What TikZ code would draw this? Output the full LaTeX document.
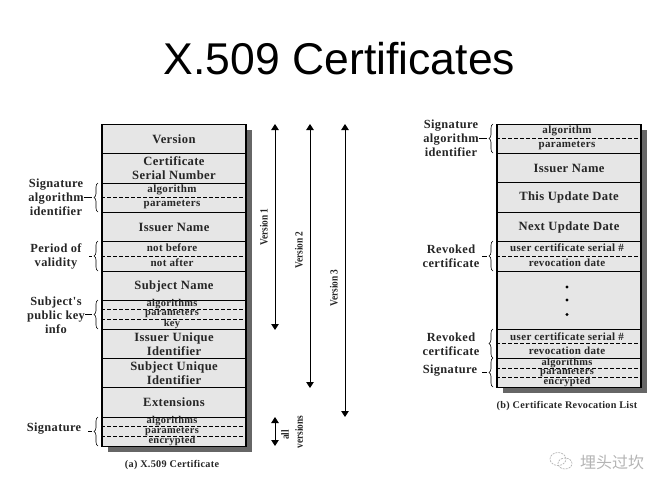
\documentclass[tikz,border=0pt]{standalone}
\usepackage{fontspec}
\setmainfont{Liberation Serif}
\newfontfamily\titlefont{Liberation Sans}
\newfontfamily\cjkfont{Noto Sans CJK SC}
\newfontfamily\spaced[LetterSpace=3]{Liberation Serif}
\usetikzlibrary{decorations.pathreplacing,arrows.meta,positioning}
\definecolor{rowgrey}{HTML}{E6E6E6}
\definecolor{shadowgrey}{HTML}{666666}
\definecolor{markgrey}{HTML}{B4B4B4}
\tikzset{
  x=1pt,y=-1pt,
  bigtext/.style={font=\spaced\bfseries\fontsize{12.6}{14}\selectfont,align=center,text=black!85},
  smalltext/.style={font=\spaced\bfseries\fontsize{11}{10}\selectfont,align=center,text=black!85},
  tinytext/.style={font=\spaced\bfseries\fontsize{10.4}{9}\selectfont,align=center,text=black!85},
  sidetext/.style={font=\spaced\bfseries\fontsize{12.4}{14}\selectfont,align=center,text=black!85,inner sep=0pt},
  captext/.style={font=\spaced\bfseries\fontsize{10.2}{10}\selectfont,text=black!85,inner sep=0pt},
  verstext/.style={font=\bfseries\fontsize{11}{10}\selectfont,rotate=90,xscale=.85,inner sep=0pt,text=black!85},
  rowbox/.style={draw=black,line width=1.1pt,fill=rowgrey,minimum width=144pt,inner sep=0pt,anchor=north},
  sepline/.style={black,line width=.7pt,dash pattern=on 3.5pt off 2.5pt},
  arrline/.style={black,line width=.9pt,{Triangle[width=7.5pt,length=6pt]}-{Triangle[width=7.5pt,length=6pt]}},
  brc/.style={black,line width=.6pt,decorate,decoration={brace,amplitude=4pt,aspect=.5}},
  tickline/.style={black,line width=.6pt},
  shadowbox/.style={fill=shadowgrey,draw=none,inner sep=0pt,minimum width=144pt,anchor=north},
}
% \rowat{name}{top y}{height}{x centre}{style}{text}
\newcommand{\rowat}[6]{\node[rowbox,minimum height=#3pt,#5] (#1) at (#4,#2) {#6};}
\begin{document}
\begin{tikzpicture}
\useasboundingbox (0,0) rectangle (665,490);
\node[font=\titlefont\fontsize{44.5}{48}\selectfont,text=black] (title) at (339.5,59) {X.509 Certificates};

% ---- left table
\node[shadowbox,minimum height=322pt] (shadowA) at (180,129.5) {};
\rowat{v}{124}{29}{174}{bigtext}{Version}
\rowat{csn}{153}{30}{174}{bigtext}{Certificate\\Serial Number}
\rowat{sa}{183}{29}{174}{}{}
\rowat{in}{212}{29}{174}{bigtext}{Issuer Name}
\rowat{pv}{241}{30}{174}{}{}
\rowat{sn}{271}{29}{174}{bigtext}{Subject Name}
\rowat{pk}{300}{29}{174}{}{}
\rowat{iu}{329}{29}{174}{bigtext}{Issuer Unique\\Identifier}
\rowat{su}{358}{29}{174}{bigtext}{Subject Unique\\Identifier}
\rowat{ex}{387}{30}{174}{bigtext}{Extensions}
\rowat{sg}{417}{29}{174}{}{}
\draw[sepline] ([yshift=-14.5pt]sa.north west) -- ([yshift=-14.5pt]sa.north east);
\draw[sepline] ([yshift=-15pt]pv.north west) -- ([yshift=-15pt]pv.north east);
\draw[sepline] ([yshift=-9.5pt]pk.north west) -- ([yshift=-9.5pt]pk.north east);
\draw[sepline] ([yshift=-19.5pt]pk.north west) -- ([yshift=-19.5pt]pk.north east);
\draw[sepline] ([yshift=-9.5pt]sg.north west) -- ([yshift=-9.5pt]sg.north east);
\draw[sepline] ([yshift=-19.5pt]sg.north west) -- ([yshift=-19.5pt]sg.north east);
\node[smalltext] (t1) at (172,190) {algorithm};
\node[smalltext] (t2) at (172,205) {parameters};
\node[smalltext] (t3) at (172,248) {not before};
\node[smalltext] (t4) at (172,263) {not after};
\node[tinytext] (t5) at (172,304) {algorithms};
\node[tinytext] (t6) at (172,314) {parameters};
\node[tinytext] (t7) at (172,324) {key};
\node[tinytext] (t8) at (172,421.5) {algorithms};
\node[tinytext] (t9) at (172,431.5) {parameters};
\node[tinytext] (t10) at (172,441) {encrypted};

% ---- left labels and braces
\node[sidetext] (l1) at (56,197) {Signature\\algorithm\\identifier};
\node[sidetext] (l2) at (56,256) {Period of\\validity};
\node[sidetext] (l3) at (56,315) {Subject's\\public key\\info};
\node[sidetext] (l4) at (54,429) {Signature};
\coordinate (b1a) at (98,212); \coordinate (b1b) at (98,183);
\coordinate (b2a) at (98,271); \coordinate (b2b) at (98,241);
\coordinate (b3a) at (98,329); \coordinate (b3b) at (98,300);
\coordinate (b4a) at (98,446); \coordinate (b4b) at (98,417);
\draw[brc] (b1a) -- (b1b); \draw[brc] (b2a) -- (b2b);
\draw[brc] (b3a) -- (b3b); \draw[brc] (b4a) -- (b4b);
\draw[tickline] (l1.east |- 0,197.5) -- (92,197.5);
\draw[tickline] (89,256) -- (92,256);
\draw[tickline] (l3.east |- 0,314.5) -- (92,314.5);
\draw[tickline] (88,431.5) -- (92,431.5);

% ---- version arrows
\coordinate (a1t) at (275,124); \coordinate (a1b) at (275,330);
\coordinate (a2t) at (310,124); \coordinate (a2b) at (310,388);
\coordinate (a3t) at (345,124); \coordinate (a3b) at (345,417);
\coordinate (a4t) at (275,417); \coordinate (a4b) at (275,446);
\draw[arrline] (a1t) -- (a1b);
\draw[arrline] (a2t) -- (a2b);
\draw[arrline] (a3t) -- (a3b);
\draw[arrline] (a4t) -- (a4b);
\node[verstext] (n1) at (264,227) {Version 1};
\node[verstext] (n2) at (299,250) {Version 2};
\node[verstext] (n3) at (334,288) {Version 3};
\node[verstext] (n4) at (285,435) {all};
\node[verstext] (n5) at (299,432) {versions};
\node[captext] (capA) at (172,465) {(a) X.509 Certificate};

% ---- right table
\node[shadowbox,minimum height=263.5pt] (shadowB) at (575,129.5) {};
\rowat{rs}{124}{29}{569}{}{}
\rowat{rin}{153}{29}{569}{bigtext}{Issuer Name}
\rowat{rtu}{182}{30}{569}{bigtext}{This Update Date}
\rowat{rnu}{212}{29}{569}{bigtext}{Next Update Date}
\rowat{rr1}{241}{30}{569}{}{}
\rowat{rdots}{271}{58}{569}{}{}
\rowat{rr2}{329}{29}{569}{}{}
\rowat{rsg}{358}{29}{569}{}{}
\draw[sepline] ([yshift=-14.5pt]rs.north west) -- ([yshift=-14.5pt]rs.north east);
\draw[sepline] ([yshift=-15pt]rr1.north west) -- ([yshift=-15pt]rr1.north east);
\draw[sepline] ([yshift=-14.5pt]rr2.north west) -- ([yshift=-14.5pt]rr2.north east);
\draw[sepline] ([yshift=-10pt]rsg.north west) -- ([yshift=-10pt]rsg.north east);
\draw[sepline] ([yshift=-19pt]rsg.north west) -- ([yshift=-19pt]rsg.north east);
\node[smalltext] (r1) at (567,131) {algorithm};
\node[smalltext] (r2) at (567,146) {parameters};
\node[smalltext] (r3) at (567,248) {user certificate serial \#};
\node[smalltext] (r4) at (567,263) {revocation date};
\node[smalltext] (r5) at (567,336.5) {user certificate serial \#};
\node[smalltext] (r6) at (567,351) {revocation date};
\node[tinytext] (r7) at (567,363) {algorithms};
\node[tinytext] (r8) at (567,373) {parameters};
\node[tinytext] (r9) at (567,382.5) {encrypted};
\foreach \n/\y in {d1/287,d2/300,d3/314.5}
  \node[circle,fill=black,inner sep=0pt,minimum size=3.2pt] (\n) at (567,\y) {};

% ---- right labels and braces
\node[sidetext] (q1) at (451,138.5) {Signature\\algorithm\\identifier};
\node[sidetext] (q2) at (451,256) {Revoked\\certificate};
\node[sidetext] (q3) at (451,344) {Revoked\\certificate};
\node[sidetext] (q4) at (450,371) {Signature};
\coordinate (c1a) at (493,153); \coordinate (c1b) at (493,124);
\coordinate (c2a) at (493,271); \coordinate (c2b) at (493,241);
\coordinate (c3a) at (493,358); \coordinate (c3b) at (493,329);
\coordinate (c4a) at (493,387); \coordinate (c4b) at (493,358);
\draw[brc] (c1a) -- (c1b); \draw[brc] (c2a) -- (c2b);
\draw[brc] (c3a) -- (c3b); \draw[brc] (c4a) -- (c4b);
\draw[tickline] (q1.east |- 0,138.5) -- (487,138.5);
\draw[tickline] (482,256) -- (487,256);
\draw[tickline] (482,372) -- (487,372);
\node[captext] (capB) at (567,406) {(b) Certificate Revocation List};

% ---- watermark
\draw[markgrey,line width=.7pt,dash pattern=on 2pt off 1pt] (558,459) ellipse [x radius=8pt,y radius=6.5pt];
\draw[markgrey,line width=.7pt,dash pattern=on 2pt off 1pt] (565,463.5) ellipse [x radius=7pt,y radius=5.5pt];
\node[font=\cjkfont\fontsize{16}{17}\selectfont,text=markgrey,inner sep=0pt] (mark) at (612,462) {埋头过坎};
\end{tikzpicture}
\end{document}
